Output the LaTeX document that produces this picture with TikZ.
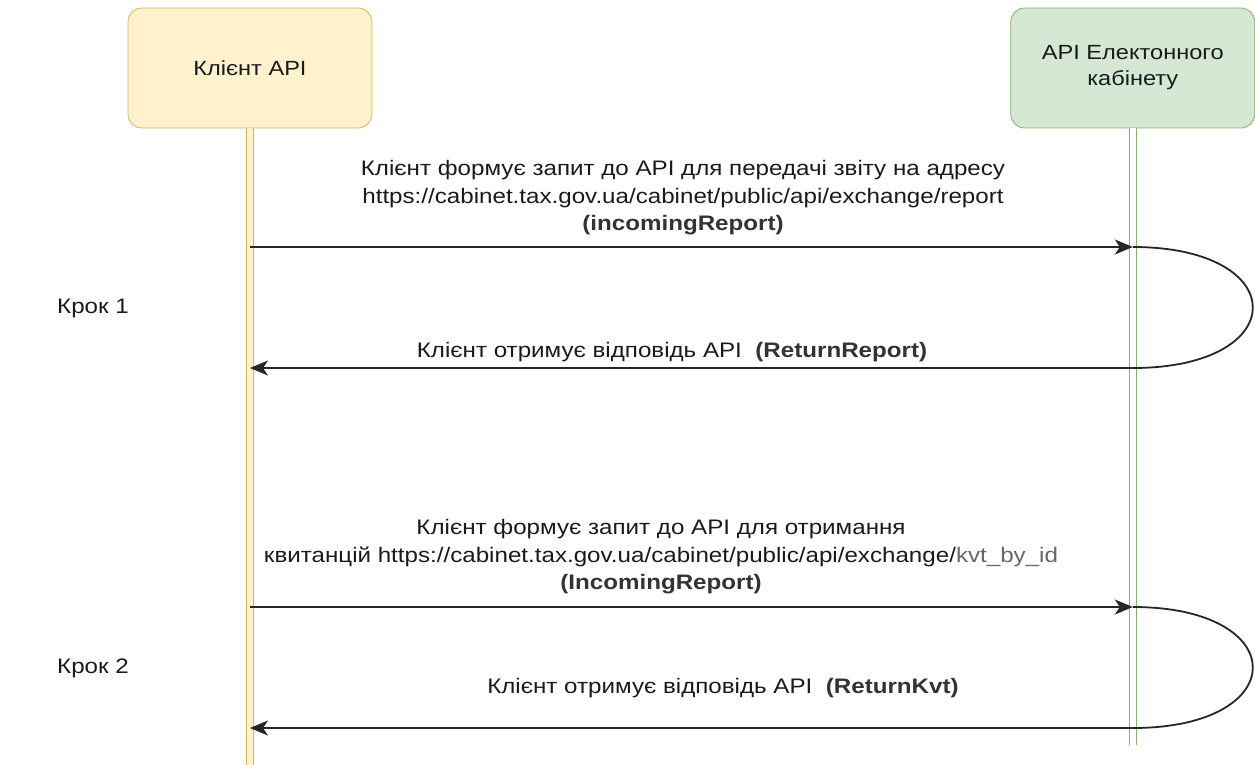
\documentclass[tikz,border=0pt]{standalone}
\usepackage{fontspec}
\setmainfont{Liberation Sans}[FakeStretch=1.15]
\usetikzlibrary{arrows.meta,positioning}
\definecolor{clientfill}{HTML}{FFF2CC}
\definecolor{clientdraw}{HTML}{D6B656}
\definecolor{cabfill}{HTML}{D5E8D4}
\definecolor{cabdraw}{HTML}{82B366}
\definecolor{msgtext}{HTML}{1A1A1A}
\definecolor{boldtext}{HTML}{333333}
\definecolor{pathtext}{HTML}{666666}

\begin{document}
\begin{tikzpicture}
  [x=1pt,y=-1pt,
   >={Stealth[length=18pt,width=15pt,inset=5pt]},
   actor/.style={rectangle,rounded corners=14pt,thick,
                 minimum width=244pt,minimum height=120pt,
                 align=center,text=msgtext,font=\fontsize{20.5}{26}\selectfont},
   lifeline/.style={double distance=6pt,line width=0.9pt},
   message/.style={draw=black!85,line width=1.8pt},
   msglabel/.style={align=center,text=msgtext,font=\fontsize{21}{27.5}\selectfont},
   steplabel/.style={text=msgtext,font=\fontsize{21}{27.5}\selectfont}]
  \useasboundingbox (0,0) rectangle (1255,765);

  \node[actor,fill=clientfill,draw=clientdraw] (client) at (250,68) {Клієнт API};
  \node[actor,fill=cabfill,draw=cabdraw]       (cabinet) [right=638pt of client]
       {API Електонного\\кабінету};

  % lifelines
  \coordinate (client end)  at (client.south |- 0,765);
  \coordinate (cabinet end) at (cabinet.south |- 0,745);
  \draw[lifeline,draw=clientdraw,double=clientfill] (client.south) -- (client end);
  \draw[lifeline,draw=cabdraw,double=white]         (cabinet.south) -- (cabinet end);

  % step 1
  \coordinate (req1 out)  at (client.south |- 0,247);
  \coordinate (req1 in)   at (cabinet.south |- 0,247);
  \coordinate (resp1 out) at (cabinet.south |- 0,368);
  \coordinate (resp1 in)  at (client.south |- 0,368);
  \draw[message,->] (req1 out) -- (req1 in);
  \draw[message] (req1 in) .. controls +(160,0) and +(160,0) .. (resp1 out);
  \draw[message,->] (resp1 out) -- (resp1 in);

  % step 2
  \coordinate (req2 out)  at (client.south |- 0,607);
  \coordinate (req2 in)   at (cabinet.south |- 0,607);
  \coordinate (resp2 out) at (cabinet.south |- 0,728);
  \coordinate (resp2 in)  at (client.south |- 0,728);
  \draw[message,->] (req2 out) -- (req2 in);
  \draw[message] (req2 in) .. controls +(160,0) and +(160,0) .. (resp2 out);
  \draw[message,->] (resp2 out) -- (resp2 in);

  % labels
  \node[msglabel] (req1 label) at (683,198)
       {Клієнт формує запит до API для передачі звіту на адресу\\
        https://cabinet.tax.gov.ua/cabinet/public/api/exchange/report\\
        \textcolor{boldtext}{\bfseries(incomingReport)}};
  \node[msglabel] (resp1 label) at (672,352)
       {Клієнт отримує відповідь API~~\textcolor{boldtext}{\bfseries(ReturnReport)}};
  \node[msglabel] (req2 label) at (661,557)
       {Клієнт формує запит до API для отримання\\
        квитанцій https://cabinet.tax.gov.ua/cabinet/public/api/exchange/\textcolor{pathtext}{kvt\_by\_id}\\
        \textcolor{boldtext}{\bfseries(IncomingReport)}};
  \node[msglabel] (resp2 label) at (723,688)
       {Клієнт отримує відповідь API~~\textcolor{boldtext}{\bfseries(ReturnKvt)}};
  \node[steplabel] (step1) at (93,308) {Крок 1};
  \node[steplabel] (step2) at (93,668) {Крок 2};
\end{tikzpicture}
\end{document}
